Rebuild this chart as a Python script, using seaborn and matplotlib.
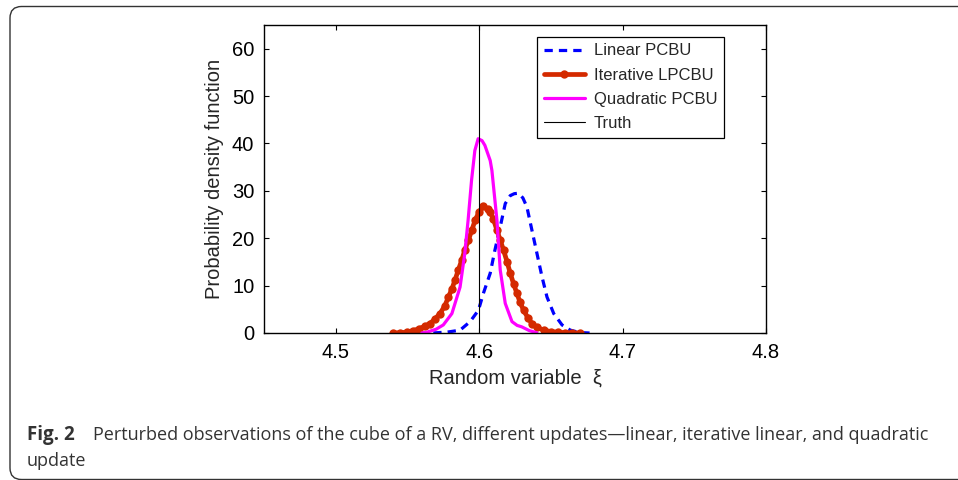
import numpy as np
import pandas as pd
import matplotlib
matplotlib.use('Agg')
import matplotlib.pyplot as plt
from matplotlib.patches import FancyBboxPatch
import seaborn as sns

# data
lin_x = [4.558, 4.570, 4.578, 4.5867, 4.5937, 4.5995, 4.603, 4.6077, 4.611, 4.6147,
         4.6182, 4.6217, 4.6245, 4.6275, 4.6305, 4.6333, 4.6368, 4.6403, 4.6438,
         4.6473, 4.652, 4.6578, 4.6636, 4.670, 4.677]
lin_y = [0.0, 0.05, 0.2, 0.6, 2.4, 4.8, 8.4, 12.6, 17.5, 22.4,
         27.3, 29.0, 29.4, 29.5, 28.5, 26.6, 21.7, 16.8, 11.9,
         7.6, 4.1, 1.7, 0.6, 0.1, 0.0]

itr_x = [4.540, 4.545, 4.550, 4.554, 4.558, 4.562, 4.5657, 4.569, 4.5727, 4.576,
         4.5786, 4.581, 4.5832, 4.5855, 4.5879, 4.590, 4.5925, 4.595, 4.5972, 4.600,
         4.603, 4.606, 4.6077, 4.610, 4.6124, 4.6147, 4.617, 4.6195, 4.6217, 4.624,
         4.6263, 4.6285, 4.631, 4.634, 4.6368, 4.640, 4.645, 4.650, 4.655, 4.660,
         4.665, 4.670]
itr_y = [0.0, 0.05, 0.2, 0.5, 0.9, 1.4, 2.0, 2.9, 4.1, 5.7,
         7.6, 9.3, 11.2, 13.3, 15.4, 17.5, 19.6, 21.8, 23.8, 25.6,
         26.7, 26.2, 25.5, 24.0, 21.7, 19.6, 17.5, 15.0, 12.6, 10.4,
         8.4, 6.5, 4.8, 3.2, 2.0, 1.2, 0.6, 0.3, 0.15, 0.07,
         0.03, 0.0]

quad_x = [4.560, 4.5634, 4.570, 4.575, 4.581, 4.5867, 4.590, 4.5923, 4.5947, 4.597,
          4.5993, 4.602, 4.604, 4.6077, 4.6089, 4.6124, 4.6147, 4.6182, 4.6229, 4.6265,
          4.6297, 4.635, 4.6403]
quad_y = [0.0, 0.15, 0.8, 1.7, 4.1, 9.7, 16.8, 23.8, 32.2, 38.5,
          41.0, 40.6, 39.6, 36.4, 34.3, 23.8, 13.3, 6.25, 2.4, 1.6,
          1.3, 0.5, 0.05]

truth = 4.6

xticks = [4.5, 4.6, 4.7, 4.8]
yticks = [0, 10, 20, 30, 40, 50, 60]

sns.set_style('ticks')
plt.rcParams['font.family'] = ['Liberation Sans', 'DejaVu Sans']

fig = plt.figure(figsize=(9.58, 4.8), dpi=100)
ax = fig.add_axes([264 / 958, 147 / 480, 502 / 958, 308 / 480])

sns.lineplot(x=lin_x, y=lin_y, sort=False, ax=ax, color='#0000ff', lw=2.3,
             linestyle=(0, (2.6, 1.9)), label='Linear PCBU')
sns.lineplot(x=itr_x, y=itr_y, sort=False, ax=ax, color='#d42a00', lw=3.4,
             marker='o', markersize=6, markeredgewidth=0, label='Iterative LPCBU')
sns.lineplot(x=quad_x, y=quad_y, sort=False, ax=ax, color='#ff00ff', lw=2.3,
             label='Quadratic PCBU')
ax.axvline(truth, color='black', lw=0.8, label='Truth')

ax.set_xlim(4.45, 4.8)
ax.set_ylim(0, 65)
ax.set_xticks(xticks)
ax.set_yticks(yticks)
ax.set_xticklabels([str(t) for t in xticks])
ax.tick_params(direction='in', top=True, right=True, labelsize=14.5,
               length=3.5, width=0.8, colors='black', pad=7)
for s in ax.spines.values():
    s.set_visible(True)
    s.set_linewidth(1.0)
    s.set_color('black')
ax.set_xlabel('Random variable  ξ', fontsize=14.5, labelpad=5)
ax.set_ylabel('Probability density function', fontsize=14.5, labelpad=6)

leg = ax.legend(loc='upper right', bbox_to_anchor=(0.916, 0.962), fontsize=12,
                frameon=True, fancybox=False, framealpha=1, edgecolor='black',
                handlelength=2.5, handletextpad=0.5, borderpad=0.4,
                labelspacing=0.55, borderaxespad=0)
leg.get_frame().set_linewidth(0.9)

# figure frame and caption
frame = FancyBboxPatch((10 / 958, 0.5 / 480), 1.2, (473 / 480),
                       boxstyle='round,pad=0,rounding_size=0.012',
                       transform=fig.transFigure, fill=False, edgecolor='#333333',
                       lw=1.0, clip_on=False, mutation_aspect=2.0)
fig.patches.append(frame)

cap_font = ['Open Sans', 'DejaVu Sans']
fig.text(27 / 958, 1 - 440 / 480, 'Fig. 2', fontsize=13.5, fontweight='bold',
         family=cap_font, color='#333333', va='baseline')
fig.text(93 / 958, 1 - 440 / 480,
         'Perturbed observations of the cube of a RV, different updates\u2014linear, '
         'iterative linear, and quadratic',
         fontsize=13.0, family=cap_font, color='#333333', va='baseline')
fig.text(27 / 958, 1 - 466 / 480, 'update', fontsize=13.0, family=cap_font,
         color='#333333', va='baseline')

fig.savefig('out.png', dpi=100)
